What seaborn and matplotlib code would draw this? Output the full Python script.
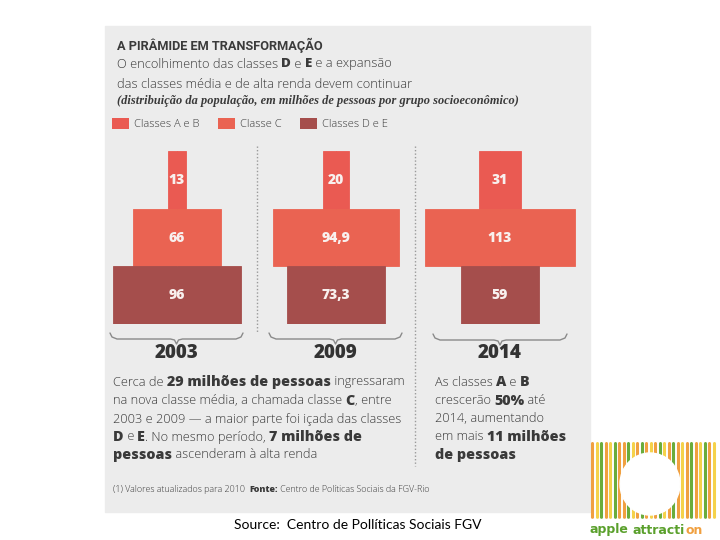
import numpy as np
import pandas as pd
import seaborn as sns
import matplotlib.pyplot as plt
from matplotlib.patches import Patch, Rectangle, Ellipse

# Dados: milhões de pessoas por grupo socioeconômico
anos = ['2003', '2009', '2014']
classes = ['Classes A e B', 'Classe C', 'Classes D e E']
ab = [13, 20, 31]
c = [66, 94.9, 113]
de = [96, 73.3, 59]
cores = ['#ea5a52', '#ea6352', '#a54e4c']

sns.set_theme(style='white')
plt.rcParams['font.family'] = ['Open Sans', 'DejaVu Sans']

fig = plt.figure(figsize=(7.2, 5.4), dpi=100)
fig.patch.set_facecolor('white')

# eixo de fundo em pixels
bg = fig.add_axes([0, 0, 1, 1])
bg.set_xlim(0, 720)
bg.set_ylim(540, 0)
bg.axis('off')
bg.add_patch(Rectangle((105, 26), 485, 486, color='#ececec', zorder=0))

CINZA = '#3a3a3a'
renderer = fig.canvas.get_renderer()


def linha(x, y, partes, size=9.2, bsize=10.3, color=CINZA, family=None, z=2):
    # escreve trechos normais/negrito em sequência
    for txt, negrito in partes:
        cor = color
        if isinstance(negrito, str):
            cor, negrito = negrito, True
        t = bg.text(x, y, txt, va='center', ha='left', color=cor,
                    fontsize=bsize if negrito else size,
                    fontweight='heavy' if negrito else 'light', zorder=z)
        if family:
            t.set_family(family)
        x += t.get_window_extent(renderer).width


# título e subtítulo
bg.text(117, 45, 'A PIRÂMIDE EM TRANSFORMAÇÃO', fontsize=9.2, fontweight='semibold',
        color=CINZA, va='center', family='Roboto')
linha(117, 64, [('O encolhimento das classes ', False), ('D', True), (' e ', False),
                ('E', True), (' e a expansão', False)], size=9.3, bsize=9.6)
linha(117, 84, [('das classes média e de alta renda devem continuar', False)], size=9.3)
bg.text(117, 101, '(distribuição da população, em milhões de pessoas por grupo socioeconômico)',
        fontsize=8.9, fontweight='bold', style='italic', family='Liberation Serif',
        color=CINZA, va='center')

# legenda
handles = [Patch(facecolor=col, edgecolor='none') for col in cores]
fig.legend(handles, classes, loc='center left', bbox_to_anchor=(112 / 720, 1 - 124 / 540),
           ncol=3, frameon=False, handlelength=1.5, handleheight=1.25,
           handletextpad=0.45, columnspacing=1.7, borderaxespad=0, borderpad=0,
           labelcolor=CINZA, prop={'weight': 'light', 'size': 8})

# pirâmides: uma por ano, barras centradas (metade para cada lado)
centros = [177, 336, 500]
topo, base = 151, 324
for i, ano in enumerate(anos):
    vals = [ab[i], c[i], de[i]]
    d = pd.DataFrame({'classe': classes, 'valor': vals})
    d['metade'] = d['valor'] / 2
    d['neg'] = -d['metade']
    ax = fig.add_axes([(centros[i] - 80) / 720, 1 - base / 540, 160 / 720, (base - topo) / 540])
    for col in ['metade', 'neg']:
        sns.barplot(data=d, x=col, y='classe', hue='classe', order=classes, hue_order=classes,
                    palette=cores, width=1.0, saturation=1, legend=False, orient='h',
                    linewidth=0, ax=ax)
    for p in ax.patches:
        p.set_edgecolor(p.get_facecolor())
        p.set_linewidth(0.6)
    ax.set_xlim(-60, 60)
    ax.set_ylim(2.5, -0.5)
    ax.axis('off')
    for j, v in enumerate(vals):
        ax.text(0, j, f'{v:g}'.replace('.', ','), ha='center', va='center',
                color='#f8f0ee', fontsize=10, fontweight='heavy')
    bg.text(centros[i], 353, ano, ha='center', va='center', fontsize=13.5,
            fontweight='heavy', color='#333333')


def chave(x0, x1, y):
    xm = (x0 + x1) / 2
    xs = [x0, x0 + 2, x0 + 7, xm - 6, xm - 2, xm, xm + 2, xm + 6, x1 - 7, x1 - 2, x1]
    ys = [y - 6, y - 2, y, y, y + 1, y + 5, y + 1, y, y, y - 2, y - 6]
    bg.plot(xs, ys, color='#8a8a8a', lw=1.0, solid_capstyle='round')


chave(110, 243, 339)
chave(269, 402, 339)
chave(433, 567, 340)

# separadores pontilhados
bg.plot([257, 257], [146, 332], color='#9a9a9a', lw=1, ls=(0, (1, 1.5)))
bg.plot([415, 415], [146, 466], color='#9a9a9a', lw=1, ls=(0, (1, 1.5)))

# texto explicativo
L = 113
linha(L, 382, [('Cerca de ', False), ('29 milhões de pessoas', True), (' ingressaram', False)])
linha(L, 401, [('na nova classe média, a chamada classe ', False), ('C', True), (', entre', False)])
linha(L, 419, [('2003 e 2009 — a maior parte foi içada das classes', False)])
linha(L, 437, [('D', True), (' e ', False), ('E', True), ('. No mesmo período, ', False),
               ('7 milhões de', True)])
linha(L, 455, [('pessoas', True), (' ascenderam à alta renda', False)])

R = 435
linha(R, 382, [('As classes ', False), ('A', True), (' e ', False), ('B', True)])
linha(R, 401, [('crescerão ', False), ('50%', True), (' até', False)])
linha(R, 419, [('2014, aumentando', False)])
linha(R, 437, [('em mais ', False), ('11 milhões', True)])
linha(R, 455, [('de pessoas', True)])

linha(113, 489, [('(1) Valores atualizados para 2010  ', False), ('Fonte:', True),
                 (' Centro de Políticas Sociais da FGV-Rio', False)], size=6.4, bsize=6.4)

# fonte do slide
bg.text(358, 525, 'Source:  Centro de Pollíticas Sociais FGV', ha='center', va='center',
        fontsize=10, color='black', family='Lato')

# logotipo simplificado
listras = ['#f0a040', '#f5d24a', '#6aac3c', '#f0a040', '#f5d24a', '#6aac3c', '#f0a040',
           '#f0a040', '#6aac3c', '#f5d24a', '#f0a040', '#6aac3c', '#f0a040', '#f5d24a',
           '#f0a040', '#6aac3c', '#f5d24a', '#f0a040', '#6aac3c', '#f0a040', '#f5d24a',
           '#f0a040', '#6aac3c', '#f0a040', '#f5d24a', '#6aac3c', '#f0a040', '#f5d24a']
for k, col in enumerate(listras):
    bg.plot([592 + k * 4.5, 592 + k * 4.5], [443, 517], color=col, lw=2.2)
bg.add_patch(Ellipse((650, 484), 60, 62, color='white', zorder=3))
bg.add_patch(Rectangle((585, 519), 135, 21, color='white', zorder=3))
linha(590, 530, [('apple', '#5aa02c'), (' ', False), ('attracti', '#5aa02c'), ('on', '#f0a040')],
      size=9, bsize=9, family='DejaVu Sans', z=4)

fig.savefig('out.png', dpi=100, facecolor='white')
